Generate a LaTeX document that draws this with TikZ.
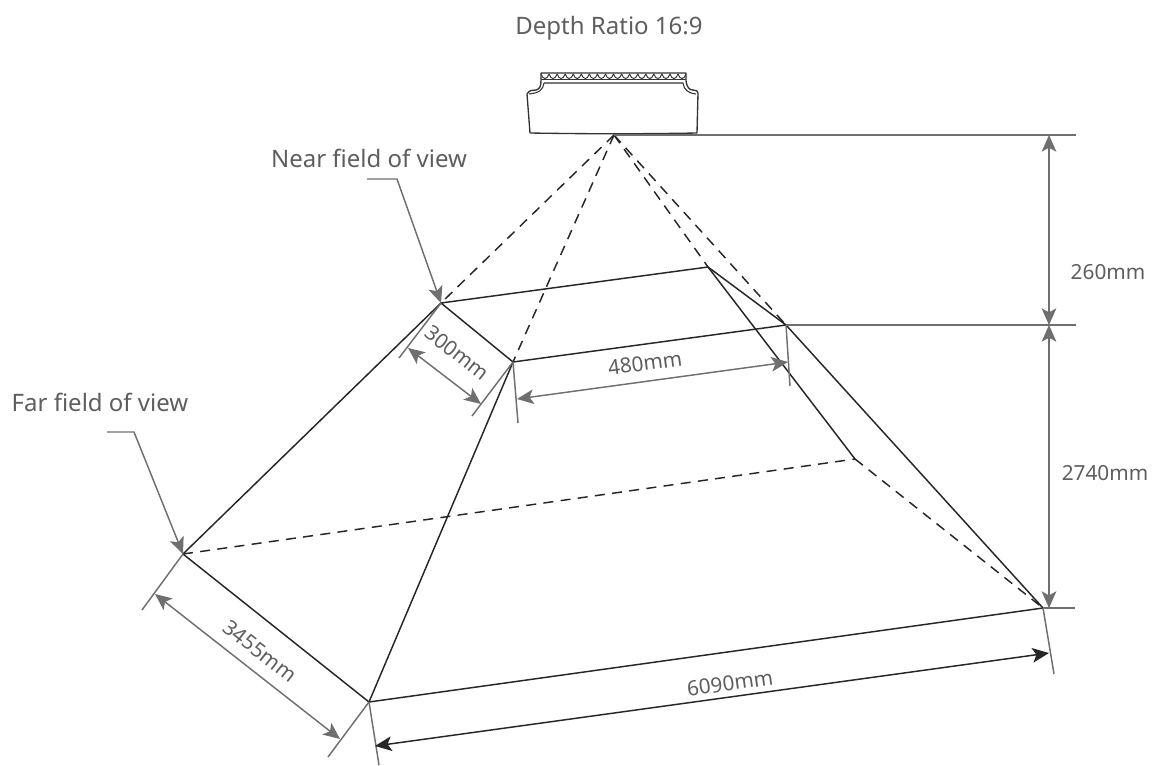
\documentclass[tikz,border=0pt]{standalone}
\usepackage{fontspec}
\setmainfont{Noto Sans}
\usetikzlibrary{arrows.meta}
\definecolor{dimgray}{HTML}{6F6F6F}
\definecolor{txtgray}{HTML}{5E5E5E}
\tikzset{
  tipstyle/.tip={Stealth[length=12.5pt,width=11pt,inset=3pt]},
  edge/.style={draw=black!85,line width=1.1pt},
  hidden/.style={edge,dash pattern=on 7.5pt off 5.5pt},
  ext/.style={draw=dimgray,line width=1.1pt},
  dimarrow/.style={draw=dimgray,line width=1.1pt,tipstyle-tipstyle},
  dimblack/.style={draw=black!85,line width=1.1pt,tipstyle-tipstyle},
  leader/.style={draw=dimgray,line width=1.1pt,-tipstyle},
  lab/.style={text=txtgray,font=\fontsize{15.6pt}{19pt}\selectfont,inner sep=0pt},
  biglab/.style={lab,font=\fontsize{18pt}{21pt}\selectfont},
  cam/.style={draw=black!80,line width=1pt,line join=round}
}
\begin{document}
\begin{tikzpicture}[x=0.75pt,y=-0.75pt]
\useasboundingbox (0,0) rectangle (1161,765);
% pyramid corners
\coordinate (apex) at (614,135);
\coordinate (ntl) at (441,303);
\coordinate (ntr) at (708,267);
\coordinate (nbr) at (786,325);
\coordinate (nbl) at (513,362);
\coordinate (fl) at (183,554);
\coordinate (fb) at (369,702);
\coordinate (fr) at (1043,608);
\coordinate (fback) at (855,459);
% camera
\draw[cam,fill=white] (541,73) -- (686,73) -- (686,81) .. controls (687,87) and (689,90) .. (693,90) .. controls (696,90) and (698,91) .. (698,93) -- (697,133) .. controls (640,134) and (590,134) .. (530,133) -- (527,94) .. controls (529,90) and (533,90) .. (536,90) .. controls (540,89) and (541,86) .. (541,80) -- cycle;
\draw[cam,line width=0.8pt] (544,83) -- (683,83) .. controls (684,90) and (688,93) .. (696,94);
\draw[cam,line width=0.8pt] (544,83) .. controls (543,90) and (539,93) .. (529,94);
\draw[cam,line width=0.7pt] (541,74) \foreach \i in {0,...,17} { .. controls ({541+\i*8.06+2},80) and ({541+\i*8.06+6},80) .. ({541+(\i+1)*8.06},74) };
\draw[cam,line width=0.7pt] (541,79) -- (686,79);
% hidden edges
\draw[hidden] (apex) -- (ntl);
\draw[hidden] (apex) -- (nbl);
\draw[hidden] (apex) -- (ntr);
\draw[hidden] (apex) -- (nbr);
\draw[hidden] (fl) -- (fback);
\draw[hidden] (fback) -- (fr);
% solid edges
\draw[edge,line join=round] (ntl) -- (ntr) -- (nbr) -- (nbl) -- cycle;
\draw[edge] (fl) -- (ntl);
\draw[edge] (fb) -- (nbl);
\draw[edge] (fr) -- (nbr);
\draw[edge] (ntr) -- (fback);
\draw[edge,line join=round] (fl) -- (fb) -- (fr);
% right-hand dimension
\coordinate (r1) at (1076,135);
\coordinate (r2) at (1076,325);
\coordinate (r3) at (1075,608);
\coordinate (d1) at (1049,135);
\coordinate (d2) at (1049,325);
\coordinate (d3) at (1049,608);
\draw[ext] (apex) -- (r1);
\draw[ext] (nbr) -- (r2);
\draw[ext] (fr) -- (r3);
\draw[dimarrow] (d1) -- (d2);
\draw[dimarrow] (d2) -- (d3);
\node[lab] (l260) at (1108,272) {260mm};
\node[lab] (l2740) at (1105,473) {2740mm};
% 300mm
\coordinate (e1) at (399,358);
\coordinate (e2) at (472,416);
\coordinate (a1) at (408,348);
\coordinate (a2) at (481,404);
\draw[ext] (ntl) -- (e1);
\draw[ext] (nbl) -- (e2);
\draw[dimarrow] (a1) -- (a2);
\node[lab,rotate=-38] (l300) at (457,353) {300mm};
% 480mm
\coordinate (e3) at (518,423);
\coordinate (e4) at (790,386);
\coordinate (a3) at (517,399);
\coordinate (a4) at (788,362);
\draw[ext] (nbl) -- (e3);
\draw[ext] (nbr) -- (e4);
\draw[dimarrow] (a3) -- (a4);
\node[lab,rotate=7.6] (l480) at (645,363) {480mm};
% 3455mm
\coordinate (e5) at (142,610);
\coordinate (e6) at (328,757);
\coordinate (a5) at (155,594);
\coordinate (a6) at (340,739);
\draw[ext] (fl) -- (e5);
\draw[ext] (fb) -- (e6);
\draw[dimarrow] (a5) -- (a6);
\node[lab,rotate=-38] (l3455) at (260,651) {3455mm};
% 6090mm
\coordinate (e7) at (379,765);
\coordinate (e8) at (1054,674);
\coordinate (a7) at (375,746);
\coordinate (a8) at (1049,653);
\draw[ext] (fb) -- (e7);
\draw[ext] (fr) -- (e8);
\draw[dimblack] (a7) -- (a8);
\node[lab,rotate=7.8] (l6090) at (730,683) {6090mm};
% leaders
\coordinate (n1) at (367,179);
\coordinate (n2) at (397,179);
\draw[leader] (n1) -- (n2) -- (ntl);
\coordinate (f1) at (107,432);
\coordinate (f2) at (134,432);
\draw[leader] (f1) -- (f2) -- (fl);
\node[biglab] (near) at (369,158) {Near field of view};
\node[biglab] (far) at (100,402) {Far field of view};
\node[biglab] (title) at (609,28) {Depth Ratio 16:9};
\end{tikzpicture}
\end{document}
